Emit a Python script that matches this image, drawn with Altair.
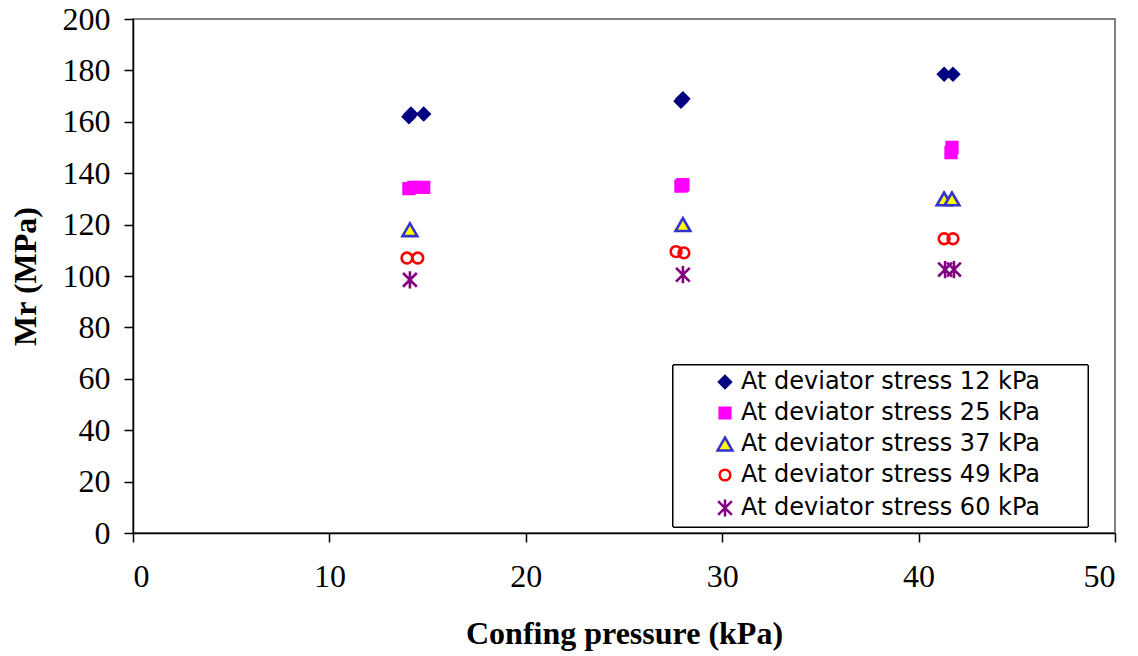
import altair as alt
import pandas as pd

series_names = [
    "At deviator stress 12 kPa",
    "At deviator stress 25 kPa",
    "At deviator stress 37 kPa",
    "At deviator stress 49 kPa",
    "At deviator stress 60 kPa",
]

x_12 = [14.05, 14.15, 14.8, 27.9, 28.0, 41.3, 41.75]
y_12 = [162.0, 163.0, 163.0, 168.0, 169.0, 178.5, 178.5]

x_25 = [14.05, 14.3, 14.8, 27.9, 28.0, 41.65, 41.7]
y_25 = [134.0, 134.5, 134.5, 135.0, 135.5, 148.0, 150.0]

x_37 = [14.1, 28.0, 41.3, 41.7]
y_37 = [118.0, 120.0, 130.0, 130.0]

x_49 = [13.95, 14.5, 27.65, 28.05, 41.3, 41.75]
y_49 = [107.0, 107.0, 109.5, 109.0, 114.5, 114.5]

x_60 = [14.1, 28.0, 41.35, 41.8]
y_60 = [98.5, 100.5, 102.5, 102.5]

xs = [x_12, x_25, x_37, x_49, x_60]
ys = [y_12, y_25, y_37, y_49, y_60]

rows = []
for name, xv, yv in zip(series_names, xs, ys):
    for a, b in zip(xv, yv):
        rows.append({"series": name, "pressure": a, "mr": b})
df = pd.DataFrame(rows)

asterisk = "M-1,-1L1,1M-1,1L1,-1M0,-1.25L0,1.25"
shapes = ["diamond", "square", "triangle-up", "circle", asterisk]
fills = ["#000080", "#FF00FF", "#FFFF00", "transparent", "transparent"]
strokes = ["#000080", "#FF00FF", "#3333CC", "#FF0000", "#800080"]
sizes = [140, 115, 220, 115, 190]

legend = alt.Legend(
    title=None,
    orient="none",
    legendX=580,
    legendY=351,
    padding=0,
    rowPadding=7,
    labelOffset=4,
    labelFont="DejaVu Sans",
    labelFontSize=24,
    labelColor="black",
    labelLimit=400,
    symbolStrokeWidth=2.5,
)

points = alt.Chart(df).mark_point(filled=True, strokeWidth=2.6, opacity=1).encode(
    x=alt.X(
        "pressure:Q",
        scale=alt.Scale(domain=[0, 50], nice=False),
        axis=alt.Axis(
            title="Confing pressure (kPa)",
            values=[0, 10, 20, 30, 40, 50],
            titleY=100,
            titleBaseline="middle",
        ),
    ),
    y=alt.Y(
        "mr:Q",
        scale=alt.Scale(domain=[0, 200], nice=False),
        axis=alt.Axis(
            title="Mr (MPa)",
            values=list(range(0, 201, 20)),
            titleX=-108,
            titleBaseline="middle",
        ),
    ),
    shape=alt.Shape("series:N", sort=series_names, scale=alt.Scale(domain=series_names, range=shapes), legend=legend),
    fill=alt.Fill("series:N", sort=series_names, scale=alt.Scale(domain=series_names, range=fills), legend=legend),
    stroke=alt.Stroke("series:N", sort=series_names, scale=alt.Scale(domain=series_names, range=strokes), legend=legend),
    size=alt.Size(
        "series:N",
        sort=series_names,
        scale=alt.Scale(type="ordinal", domain=series_names, range=sizes),
        legend=legend,
    ),
)

box = alt.Chart(df).mark_rect(fill="white", stroke="black", strokeWidth=1).encode(
    x=alt.value(540), x2=alt.value(955), y=alt.value(346), y2=alt.value(508)
)

chart = (
    alt.layer(box, points)
    .properties(
        width=982,
        height=514,
        autosize=alt.AutoSizeParams(type="none"),
        padding={"left": 133, "top": 19, "right": 23, "bottom": 123},
        background="white",
    )
    .configure_view(stroke="#808080", strokeWidth=2)
    .configure_axis(
        grid=False,
        domainColor="black",
        domainWidth=1.5,
        tickColor="black",
        tickWidth=1.5,
        tickSize=9,
        labelFont="Liberation Serif",
        labelFontSize=32,
        labelColor="black",
        titleFont="Liberation Serif",
        titleFontSize=32,
        titleFontWeight="bold",
        titleColor="black",
    )
    .configure_axisX(labelPadding=19)
    .configure_axisY(labelPadding=14)
)

chart.save("out.html", embed_options={"renderer": "svg", "actions": False})
